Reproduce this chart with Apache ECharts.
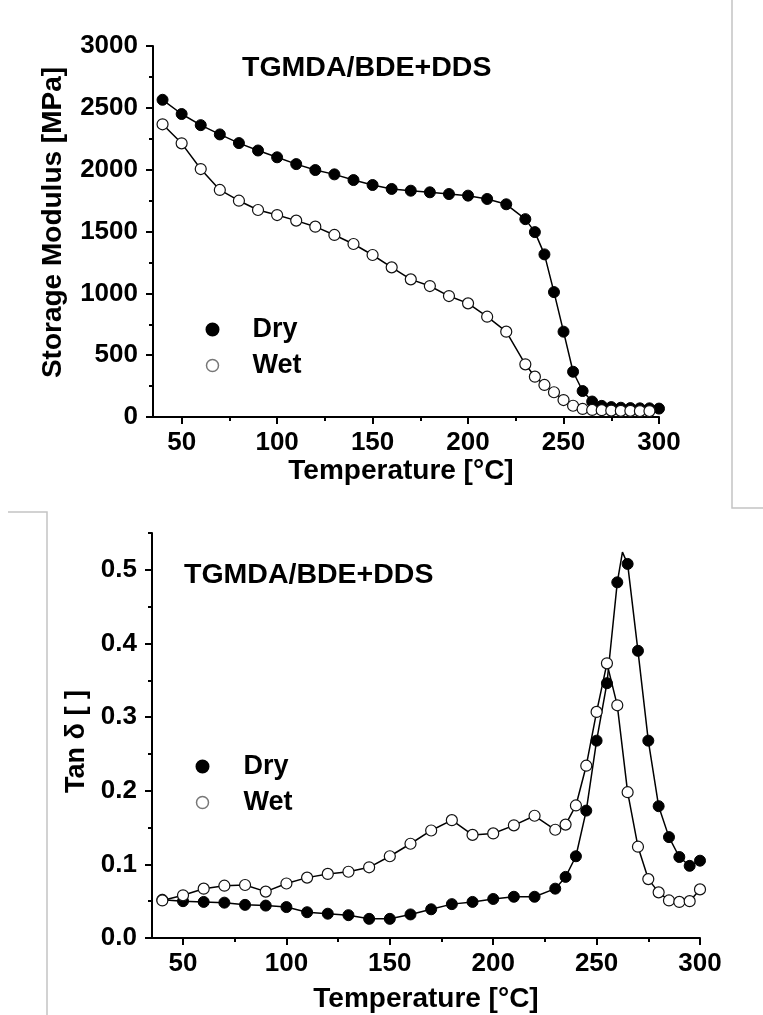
<!DOCTYPE html>
<html>
<head>
<meta charset="utf-8">
<script src="https://cdn.jsdelivr.net/npm/echarts@6/dist/echarts.min.js"></script>
<style>
html,body{margin:0;padding:0;background:#fff;}
#c{width:763px;height:1015px;}
</style>
</head>
<body>
<div id="c"></div>
<script>
// ---- Data ----
var seriesNames = ['Dry', 'Wet'];
var chartTitle = 'TGMDA/BDE+DDS';
var xTickLabels = [50, 100, 150, 200, 250, 300];
var xMinorTicks = [75, 125, 175, 225, 275];
var modTickLabels = [0, 500, 1000, 1500, 2000, 2500, 3000];
var tanTickLabels = [0, 0.1, 0.2, 0.3, 0.4, 0.5];
var tanMinorTicks = [0.05, 0.15, 0.25, 0.35, 0.45, 0.55];

// Storage modulus [MPa]
var modDryT = [40,50,60,70,80,90,100,110,120,130,140,150,160,170,180,190,200,210,220,230,235,240,245,250,255,260,265,270,275,280,285,290,295,300];
var modDryV = [2565,2450,2360,2285,2215,2155,2100,2045,1997,1962,1916,1876,1844,1830,1817,1803,1790,1763,1720,1600,1495,1315,1010,690,366,210,125,90,80,75,72,70,70,68];
var modWetT = [40,50,60,70,80,90,100,110,120,130,140,150,160,170,180,190,200,210,220,230,235,240,245,250,255,260,265,270,275,280,285,290,295];
var modWetV = [2367,2213,2005,1836,1749,1674,1633,1588,1539,1472,1399,1310,1210,1113,1059,978,919,811,690,426,326,259,200,137,91,65,57,55,52,50,50,48,48];

// Tan delta
var tanDryT = [40,50,60,70,80,90,100,110,120,130,140,150,160,170,180,190,200,210,220,230,235,240,245,250,255,260,262.5,265,270,275,280,285,290,295,300];
var tanDryV = [0.052,0.050,0.049,0.048,0.045,0.044,0.042,0.035,0.033,0.031,0.026,0.026,0.032,0.039,0.046,0.049,0.053,0.056,0.056,0.067,0.083,0.111,0.173,0.268,0.346,0.483,0.524,0.508,0.390,0.268,0.179,0.137,0.110,0.098,0.105];
var tanDryNoMarker = [262.5];
var tanWetT = [40,50,60,70,80,90,100,110,120,130,140,150,160,170,180,190,200,210,220,230,235,240,245,250,255,260,265,270,275,280,285,290,295,300];
var tanWetV = [0.051,0.058,0.067,0.071,0.072,0.063,0.074,0.082,0.087,0.090,0.096,0.111,0.128,0.146,0.160,0.140,0.142,0.153,0.166,0.147,0.154,0.180,0.234,0.307,0.373,0.316,0.198,0.124,0.080,0.062,0.051,0.049,0.050,0.066];

// ---- Build ----
var FONT = "'Liberation Sans', Arial, sans-serif";
function pairs(t, v, noMarker) {
  noMarker = noMarker || [];
  return t.map(function (x, i) {
    if (noMarker.indexOf(x) >= 0) return { value: [x, v[i]], symbol: 'none' };
    return [x, v[i]];
  });
}
var axisLineStyle = { color: '#000', width: 2 };

function mainX(grid, gap, namePad) {
  return {
    type: 'value', gridIndex: grid, min: 35, max: 300, position: 'bottom', offset: 0,
    axisLine: { show: true, lineStyle: axisLineStyle, onZero: false },
    axisTick: { show: true, length: 7, lineStyle: { color: '#000', width: 2 }, customValues: xTickLabels },
    axisLabel: { show: true, margin: 13, customValues: xTickLabels, formatter: function (v) { return String(v); }, color: '#000', fontFamily: FONT, fontWeight: 'bold', fontSize: 26 },
    splitLine: { show: false },
    name: 'Temperature [°C]', nameLocation: 'middle', nameGap: gap,
    nameTextStyle: { color: '#000', fontFamily: FONT, fontWeight: 'bold', fontSize: 28, padding: namePad }
  };
}
function minorX(grid) {
  return {
    type: 'value', gridIndex: grid, min: 35, max: 300, position: 'bottom', offset: 0,
    axisLine: { show: false, onZero: false },
    axisTick: { show: true, length: 4, lineStyle: { color: '#000', width: 2 }, customValues: xMinorTicks },
    axisLabel: { show: false },
    splitLine: { show: false }
  };
}

var dryItem = { color: '#000', borderColor: '#000', borderWidth: 1 };
var wetItem = { color: '#fff', borderColor: '#111', borderWidth: 1.2 };
var lineSt = { color: '#000', width: 1.5 };

var option = {
  animation: false,
  backgroundColor: '#fff',
  graphic: [
    { type: 'polyline', silent: true, shape: { points: [[732, 0], [732, 508], [763, 508]] }, style: { stroke: '#c4c4c4', lineWidth: 1.5, fill: null } },
    { type: 'polyline', silent: true, shape: { points: [[8, 512], [47, 512], [47, 1015]] }, style: { stroke: '#c4c4c4', lineWidth: 1.5, fill: null } }
  ],
  title: [
    { text: chartTitle, left: 242, top: 54, padding: 0, textStyle: { color: '#000', fontFamily: FONT, fontWeight: 'bold', fontSize: 28.5 } },
    { text: chartTitle, left: 184, top: 561, padding: 0, textStyle: { color: '#000', fontFamily: FONT, fontWeight: 'bold', fontSize: 28.5 } }
  ],
  legend: [
    {
      data: [{ name: seriesNames[0] }, { name: seriesNames[1], itemStyle: { color: '#fff', borderColor: '#777', borderWidth: 1.5 } }],
      orient: 'vertical', left: 205.5, top: 316, padding: 0, itemGap: 9,
      icon: 'circle', itemWidth: 12, itemHeight: 12,
      textStyle: { color: '#000', fontFamily: FONT, fontWeight: 'bold', fontSize: 27, lineHeight: 26, padding: [0, 0, 0, 29] },
      selectedMode: false
    },
    {
      data: [{ name: seriesNames[0] }, { name: seriesNames[1], itemStyle: { color: '#fff', borderColor: '#777', borderWidth: 1.5 } }],
      orient: 'vertical', left: 195.5, top: 753, padding: 0, itemGap: 9,
      icon: 'circle', itemWidth: 12, itemHeight: 12,
      textStyle: { color: '#000', fontFamily: FONT, fontWeight: 'bold', fontSize: 27, lineHeight: 26, padding: [0, 0, 0, 30] },
      selectedMode: false
    }
  ],
  grid: [
    { left: 153, top: 46, width: 506, height: 371, containLabel: false },
    { left: 152, top: 533, width: 548, height: 405, containLabel: false }
  ],
  xAxis: [ mainX(0, 37, [0, 10, 0, 0]), minorX(0), mainX(1, 47, [0, 0, 0, 0]), minorX(1) ],
  yAxis: [
    {
      type: 'value', gridIndex: 0, min: 0, max: 3000, interval: 500, position: 'left', offset: 0,
      axisLine: { show: true, lineStyle: axisLineStyle, onZero: false },
      axisTick: { show: true, length: 7, lineStyle: { color: '#000', width: 2 } },
      minorTick: { show: true, splitNumber: 2, length: 4, lineStyle: { color: '#000', width: 2 } },
      axisLabel: { margin: 15, customValues: modTickLabels, formatter: function (v) { return String(v); }, color: '#000', fontFamily: FONT, fontWeight: 'bold', fontSize: 26 },
      splitLine: { show: false }, minorSplitLine: { show: false },
      name: 'Storage Modulus [MPa]', nameLocation: 'middle', nameGap: 86,
      nameTextStyle: { color: '#000', fontFamily: FONT, fontWeight: 'bold', fontSize: 28, padding: [0, 0, 0, 18] }
    },
    {
      type: 'value', gridIndex: 1, min: 0, max: 0.55, position: 'left', offset: 0,
      axisLine: { show: true, lineStyle: axisLineStyle, onZero: false },
      axisTick: { show: true, length: 7, lineStyle: { color: '#000', width: 2 }, customValues: tanTickLabels },
      axisLabel: { margin: 15, customValues: tanTickLabels, formatter: function (v) { return v.toFixed(1); }, color: '#000', fontFamily: FONT, fontWeight: 'bold', fontSize: 26 },
      splitLine: { show: false },
      name: 'Tan δ [ ]', nameLocation: 'middle', nameGap: 62,
      nameTextStyle: { color: '#000', fontFamily: FONT, fontWeight: 'bold', fontSize: 27, padding: [0, 12, 0, 0] }
    },
    {
      type: 'value', gridIndex: 1, min: 0, max: 0.55, position: 'left', offset: 0,
      axisLine: { show: false, onZero: false },
      axisTick: { show: true, length: 4, lineStyle: { color: '#000', width: 2 }, customValues: tanMinorTicks },
      axisLabel: { show: false },
      splitLine: { show: false }
    }
  ],
  series: [
    { name: seriesNames[0], type: 'line', xAxisIndex: 0, yAxisIndex: 0, data: pairs(modDryT, modDryV), symbol: 'circle', symbolSize: 11, itemStyle: dryItem, lineStyle: lineSt, z: 2 },
    { name: seriesNames[1], type: 'line', xAxisIndex: 0, yAxisIndex: 0, data: pairs(modWetT, modWetV), symbol: 'circle', symbolSize: 11, itemStyle: wetItem, lineStyle: lineSt, z: 3 },
    { name: seriesNames[0], type: 'line', xAxisIndex: 2, yAxisIndex: 1, data: pairs(tanDryT, tanDryV, tanDryNoMarker), symbol: 'circle', symbolSize: 11, itemStyle: dryItem, lineStyle: lineSt, z: 2 },
    { name: seriesNames[1], type: 'line', xAxisIndex: 2, yAxisIndex: 1, data: pairs(tanWetT, tanWetV), symbol: 'circle', symbolSize: 11, itemStyle: wetItem, lineStyle: lineSt, z: 3 }
  ]
};
var chart = echarts.init(document.getElementById('c'), null, { renderer: 'canvas' });
chart.setOption(option);
</script>
</body>
</html>
